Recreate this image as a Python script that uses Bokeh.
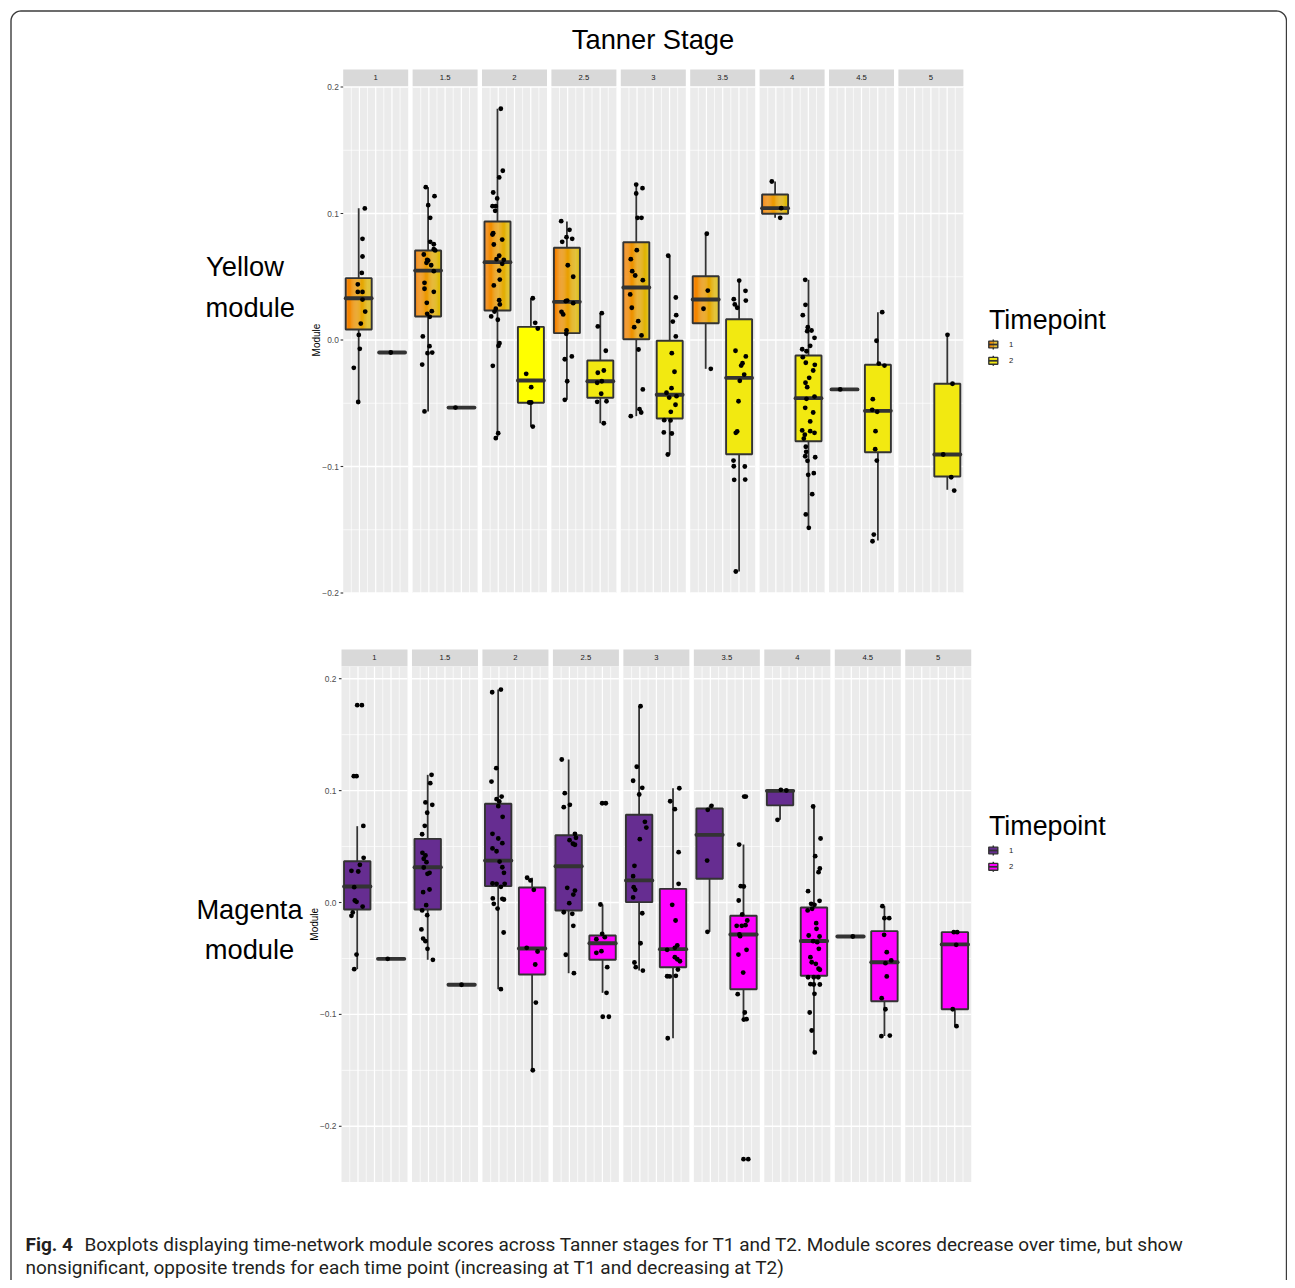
import numpy as np
from bokeh.plotting import figure
from bokeh.models import Range1d
from bokeh.core.properties import value
from bokeh.embed import file_html
from bokeh.resources import INLINE

# ---------------- data ----------------
stages = ["1", "1.5", "2", "2.5", "3", "3.5", "4", "4.5", "5"]
timepoints = ["1", "2"]
y_ticks = [-0.2, -0.1, 0.0, 0.1, 0.2]
y_tick_labels = ["\u22120.2", "\u22120.1", "0.0", "0.1", "0.2"]

# Yellow module, box statistics per Tanner stage (None = no data)
yellow_t1_lo = [-0.0494, -0.0565, -0.0768, -0.0473, -0.0602, -0.0228, 0.0966, -0.0391, None]
yellow_t1_q1 = [0.0083, 0.0186, 0.0233, 0.0054, 0.0006, 0.0133, 0.0998, -0.0391, None]
yellow_t1_med = [0.0330, 0.0549, 0.0615, 0.0302, 0.0415, 0.0320, 0.1042, -0.0391, None]
yellow_t1_q3 = [0.0489, 0.0708, 0.0937, 0.0729, 0.0773, 0.0504, 0.1150, -0.0391, None]
yellow_t1_hi = [0.1042, 0.1208, 0.1828, 0.0937, 0.1229, 0.0840, 0.1253, -0.0391, None]

yellow_t2_lo = [-0.0099, -0.0534, -0.0684, -0.0658, -0.0905, -0.1830, -0.1485, -0.1585, -0.1184]
yellow_t2_q1 = [-0.0099, -0.0534, -0.0496, -0.0457, -0.0621, -0.0903, -0.0800, -0.0887, -0.1079]
yellow_t2_med = [-0.0099, -0.0534, -0.0320, -0.0326, -0.0433, -0.0299, -0.0460, -0.0560, -0.0905]
yellow_t2_q3 = [-0.0099, -0.0534, 0.0104, -0.0162, -0.0006, 0.0164, -0.0123, -0.0196, -0.0346]
yellow_t2_hi = [-0.0099, -0.0534, 0.0330, 0.0212, 0.0666, 0.0470, 0.0476, 0.0220, 0.0041]

# Magenta module, box statistics
magenta_t1_lo = [-0.0596, -0.0512, -0.0775, -0.0632, -0.0608, -0.0262, 0.0739, -0.0304, None]
magenta_t1_q1 = [-0.0063, -0.0063, 0.0146, -0.0071, 0.0003, 0.0212, 0.0868, -0.0304, None]
magenta_t1_med = [0.0143, 0.0315, 0.0375, 0.0324, 0.0197, 0.0605, 0.0998, -0.0304, None]
magenta_t1_q3 = [0.0369, 0.0569, 0.0882, 0.0601, 0.0784, 0.0840, 0.1001, -0.0304, None]
magenta_t1_hi = [0.0682, 0.1141, 0.1903, 0.1278, 0.1754, 0.0864, 0.1007, -0.0304, None]

magenta_t2_lo = [-0.0503, -0.0735, -0.1499, -0.0807, -0.1213, -0.1046, -0.1340, -0.1193, -0.1105]
magenta_t2_q1 = [-0.0503, -0.0735, -0.0643, -0.0512, -0.0578, -0.0775, -0.0655, -0.0882, -0.0954]
magenta_t2_med = [-0.0503, -0.0735, -0.0411, -0.0364, -0.0417, -0.0286, -0.0344, -0.0534, -0.0375]
magenta_t2_q3 = [-0.0503, -0.0735, 0.0134, -0.0295, 0.0122, -0.0119, -0.0045, -0.0256, -0.0265]
magenta_t2_hi = [-0.0503, -0.0735, 0.0221, -0.0018, 0.1021, 0.0518, 0.0858, -0.0033, -0.0265]

# individual module scores (one list per stage) and their horizontal jitter
yellow_t1_values = [
    [0.104, 0.080, 0.066, 0.053, 0.044, 0.038, 0.038, 0.032, 0.0225, 0.013, 0.004, -0.007, -0.022, -0.049],
    [0.1208, 0.1137, 0.1066, 0.0966, 0.0776, 0.0757, 0.0718, 0.0708, 0.0676, 0.0634, 0.0628, 0.0610, 0.0591,
     0.0544, 0.0452, 0.0405, 0.0381, 0.0294, 0.0228, 0.0207, 0.0183, 0.0028, -0.0049, -0.0104, -0.0099, -0.0194, -0.0565],
    [0.1828, 0.1338, 0.1285, 0.1166, 0.1119, 0.1058, 0.1058, 0.1021, 0.0844, 0.0834, 0.0794, 0.0755, 0.0666, 0.0639,
     0.0634, 0.0602, 0.0549, 0.0478, 0.0431, 0.0315, 0.0281, 0.0247, 0.0225, 0.0186, 0.0160, -0.0025, -0.0046,
     -0.0204, -0.0737, -0.0776],
    [0.0939, 0.0871, 0.0813, 0.0800, 0.0776, 0.0591, 0.0500, 0.0312, 0.0307, 0.0291, 0.0223, 0.0202, 0.0075,
     0.0049, -0.0130, -0.0152, -0.0326, -0.0473],
    [0.1229, 0.1200, 0.1158, 0.0966, 0.0966, 0.0710, 0.0639, 0.0544, 0.0510, 0.0473, 0.0360, 0.0255, 0.0149,
     0.0101, 0.0036, -0.0075, -0.0391, -0.0547, -0.0573, -0.0602],
    [0.0840, 0.0391, 0.0247, -0.0228],
    [0.1253, 0.1042, 0.0966],
    [-0.0391],
    [],
]
yellow_t1_jitter = [
    [6.1, 3.8, 3.8, 3.1, -0.9, -0.9, 3.8, 3.8, 6.5, 2.1, 0.1, 1.1, -4.9, -0.5],
    [-2.3, 6.4, 0.1, 2.1, 2.1, 5.7, 5.7, 7.1, -4.3, -0.9, 0.1, -1.6, 3.1, 5.7, -3.6, -3.6, 5.7, -1.3, 3.7, -0.9,
     1.7, -5.3, 1.4, -0.6, 4.1, -5.9, -3.6],
    [3.3, 5.3, 1.7, -4.3, -0.3, -5.0, -1.7, -2.3, -4.3, -5.0, 4.7, -3.7, 1.7, -1.0, 6.3, 4.7, 1.7, 2.3, -3.7, 1.7,
     2.3, -1.7, -3.0, -6.3, 0.3, 2.0, 1.0, -4.7, 0.7, -1.7],
    [-5.7, 2.6, -0.4, 5.3, -4.7, 0.9, 6.3, 0.3, -1.1, 6.3, -5.4, -3.7, -0.4, -0.7, 4.9, -2.1, 0.3, -2.1],
    [-0.1, 6.2, -0.1, 1.2, 5.2, 0.5, -5.5, -4.1, -1.1, 6.5, -6.1, -4.5, 1.9, -2.1, 5.2, 2.2, 6.5, 3.2, 4.9, -5.5],
    [1.1, 2.1, -2.2, 5.1],
    [-3.3, 6.1, 5.1],
    [-4.3],
    [],
]
yellow_t2_values = [
    [-0.0099],
    [-0.0534],
    [0.0330, 0.0136, 0.0091, -0.0267, -0.0373, -0.0494, -0.0494, -0.0684],
    [0.0212, 0.0107, -0.0085, -0.0241, -0.0259, -0.0326, -0.0338, -0.0425, -0.0489, -0.0484, -0.0658],
    [0.0666, 0.0336, 0.0196, 0.0146, 0.0028, -0.0104, -0.0251, -0.0381, -0.0417, -0.0455, -0.0444, -0.0512,
     -0.0568, -0.0634, -0.0636, -0.0731, -0.0739, -0.0905],
    [0.0470, 0.0389, 0.0323, 0.0312, 0.0281, 0.0255, -0.0085, -0.0130, -0.0183, -0.0202, -0.0273, -0.0323,
     -0.0484, -0.0723, -0.0734, -0.0953, -0.0998, -0.1000, -0.1105, -0.1103, -0.1830],
    [0.0476, 0.0278, 0.0196, 0.0101, 0.0075, 0.0070, 0.0017, -0.0046, -0.0073, -0.0089, -0.0136, -0.0180, -0.0196,
     -0.0241, -0.0299, -0.0338, -0.0373, -0.0447, -0.0465, -0.0536, -0.0573, -0.0644, -0.0715, -0.0721, -0.0734,
     -0.0749, -0.0779, -0.0844, -0.0884, -0.0919, -0.0927, -0.0955, -0.1053, -0.1066, -0.1219, -0.1379, -0.1485],
    [0.0220, -0.0006, -0.0186, -0.0202, -0.0468, -0.0552, -0.0568, -0.0721, -0.0863, -0.0953, -0.1538, -0.1591],
    [0.0041, -0.0346, -0.0905, -0.1085, -0.1190],
]
yellow_t2_jitter = [
    [-1.3],
    [-6.0],
    [1.9, 4.3, 6.9, -4.7, 0.3, -1.7, 0.3, 1.9],
    [1.5, -2.5, 5.5, 3.5, -2.5, 1.5, -3.1, 0.9, -3.1, 6.2, 3.5],
    [-1.5, 6.1, 6.5, 3.1, 6.1, 2.1, 4.8, 1.8, -3.2, -0.5, 6.8, 5.8, 1.1, -5.5, 0.8, -5.9, 2.1, -1.9],
    [0.1, 6.4, -5.3, 6.7, -4.3, -1.9, -3.6, 6.7, 3.4, 2.1, 5.1, 0.7, -0.6, -1.9, -3.3, -5.6, -5.3, 5.7, -4.9, 6.1,
     -3.3],
    [-3.3, -3.0, -5.7, -0.7, 3.0, -1.3, 6.0, 1.7, -6.3, -2.0, -5.7, -2.7, 6.3, 4.7, 0.7, -3.0, -1.3, 6.0, -2.0,
     -3.3, 4.7, 1.7, -6.3, 1.7, 6.0, -3.7, -4.7, -2.7, -2.3, -3.3, 6.7, -1.0, 5.3, -0.3, 3.7, -2.7, 0.3],
    [4.3, -1.4, 0.9, 6.6, -5.1, -5.7, -0.7, -2.4, -2.7, -1.1, -4.1, -5.4],
    [0.2, 5.2, -4.1, 3.9, 6.9],
]
magenta_t1_values = [
    [0.1763, 0.1763, 0.1129, 0.1129, 0.0684, 0.0399, 0.0337, 0.0283, 0.0277, 0.0137, 0.0018, 0.0006, -0.0036,
     -0.0089, -0.0119, -0.0465, -0.0596],
    [0.1141, 0.1066, 0.0894, 0.0873, 0.0802, 0.0685, 0.0610, 0.0444, 0.0420, 0.0391, 0.0360, 0.0313, 0.0265,
     0.0256, 0.0116, 0.0092, -0.0024, -0.0071, -0.0113, -0.0241, -0.0322, -0.0346, -0.0414, -0.0512],
    [0.1903, 0.1879, 0.1200, 0.1081, 0.0947, 0.0923, 0.0903, 0.0861, 0.0766, 0.0614, 0.0572, 0.0530, 0.0483,
     0.0458, 0.0366, 0.0315, 0.0265, 0.0170, 0.0167, 0.0167, 0.0140, 0.0036, 0.0033, 0.0027, -0.0012, -0.0054,
     -0.0268, -0.0775],
    [0.1278, 0.0977, 0.0873, 0.0852, 0.0614, 0.0578, 0.0557, 0.0525, 0.0516, 0.0131, 0.0107, 0.0071, -0.0006,
     -0.0087, -0.0101, -0.0208, -0.0467, -0.0632],
    [0.1754, 0.1213, 0.1088, 0.1025, 0.0965, 0.0721, 0.0670, 0.0566, 0.0328, 0.0235, 0.0137, 0.0113, 0.0045,
     -0.0096, -0.0364, -0.0536, -0.0578, -0.0608],
    [0.0864, 0.0828, 0.0375, -0.0262],
    [0.1007, 0.1001, 0.0739],
    [-0.0304],
    [],
]
magenta_t1_jitter = [
    [0.0, 4.6, -3.4, -0.7, 6.0, 6.3, 2.6, -5.7, 1.0, -3.0, -2.4, -0.7, 5.3, -4.4, -5.7, -0.7, -3.0],
    [3.8, 2.5, -2.2, 4.5, -0.5, -2.9, -5.5, -5.2, -2.2, -3.9, -1.2, -3.9, 1.8, -0.2, 1.8, -4.5, -1.5, -5.5, -0.5,
     -6.2, -4.5, -2.2, -0.2, 5.1],
    [2.7, -5.9, -1.9, -6.6, 3.4, -1.6, 1.1, 0.1, 4.4, -5.6, 0.1, 4.1, -5.6, -1.6, 1.4, 4.1, 5.7, -5.6, -1.6, 6.4,
     2.7, -5.3, 4.1, 5.7, -4.3, -0.6, 5.4, 2.7],
    [-6.8, -3.8, 1.2, -4.8, 6.2, 7.2, 0.9, 4.2, 6.2, -1.4, 6.2, 4.6, 0.6, -4.8, 3.6, 4.6, -2.8, 5.2],
    [1.4, -2.3, -5.9, 3.1, 0.1, 5.7, 7.1, 0.7, -4.6, -5.9, -5.3, -3.9, -5.9, 3.1, 1.4, -4.6, -3.3, 3.7],
    [1.9, -1.8, -2.4, -2.1],
    [0.8, 6.2, -2.5],
    [2.3],
    [],
]
magenta_t2_values = [
    [-0.0503],
    [-0.0735],
    [0.0221, 0.0197, 0.0113, -0.0405, -0.0438, -0.0554, -0.0894, -0.1499],
    [0.0887, 0.0887, -0.0018, -0.0280, -0.0310, -0.0328, -0.0435, -0.0450, -0.0578, -0.0807, -0.1021, -0.1021],
    [0.1021, 0.0905, 0.0834, 0.0450, 0.0167, -0.0021, -0.0161, -0.0384, -0.0405, -0.0423, -0.0489, -0.0507,
     -0.0525, -0.0599, -0.0659, -0.0661, -0.0655, -0.1213],
    [0.0947, 0.0947, 0.0518, 0.0146, 0.0143, 0.0018, -0.0107, -0.0161, -0.0208, -0.0208, -0.0203, -0.0286,
     -0.0301, -0.0423, -0.0465, -0.0626, -0.0819, -0.0983, -0.1046, -0.1043, -0.2294, -0.2294],
    [0.0858, 0.0572, 0.0414, 0.0304, 0.0271, 0.0101, 0.0015, -0.0012, -0.0021, -0.0056, -0.0071, -0.0185,
     -0.0235, -0.0295, -0.0304, -0.0346, -0.0355, -0.0414, -0.0489, -0.0534, -0.0548, -0.0592, -0.0601, -0.0668,
     -0.0668, -0.0668, -0.0730, -0.0733, -0.0733, -0.0816, -0.0983, -0.1144, -0.1340],
    [-0.0033, -0.0140, -0.0140, -0.0289, -0.0444, -0.0518, -0.0542, -0.0661, -0.0855, -0.0954, -0.1195, -0.1189],
    [-0.0265, -0.0265, -0.0378, -0.0954, -0.1105],
]
magenta_t2_jitter = [
    [-3.4],
    [-0.1],
    [-4.9, -1.6, 1.7, -5.3, 5.4, 3.1, 3.7, 0.7],
    [-0.4, 3.2, -2.1, -0.4, 2.2, -6.1, -1.1, -6.1, 4.6, 3.9, 0.2, 6.2],
    [6.2, -2.8, 1.8, 5.5, 5.5, -0.8, 2.5, 4.2, 1.8, -5.8, 1.8, 4.2, 6.8, 4.8, -5.8, -3.2, 2.8, -5.2],
    [0.7, 2.3, -4.3, -2.7, 0.3, -4.7, -1.3, 3.7, -6.7, -1.7, 2.0, -4.0, -3.3, 3.0, -5.0, -0.3, -5.7, 1.3, 0.3,
     3.0, 0.0, 4.7],
    [-0.8, 6.5, 1.2, 5.8, 4.5, -5.8, 5.5, -2.8, 0.5, -1.8, -6.2, 2.2, 2.5, -5.2, 5.5, -0.8, 3.2, 4.8, -3.5, -2.2,
     1.8, 4.5, 5.8, -5.8, -0.2, 4.2, -3.5, -0.2, 5.8, 0.5, -4.2, -2.2, 0.8],
    [-2.0, 0.0, 4.7, -0.3, 2.3, 6.7, 1.0, 2.3, -2.7, 1.0, -3.0, 5.3],
    [-1.1, 2.3, 1.3, -2.1, 1.6],
]

title_text = "Tanner Stage"
legend_title = "Timepoint"
caption_bold = "Fig. 4"
caption_line1 = ("Boxplots displaying time-network module scores across Tanner stages for T1 and T2. "
                 "Module scores decrease over time, but show")
caption_line2 = "nonsignificant, opposite trends for each time point (increasing at T1 and decreasing at T2)"

# ---------------- styles / layout ----------------
FONT = "Liberation Sans"
CAP_FONT = "Roboto"
W, H = 1287, 1280        # canvas size (1 unit of the base ranges = 1 screen pixel)


def fs(px):
    return value("%.2fpx" % px)


FW, FS = 65.0, 69.4      # facet width / facet spacing in panel units
CENTERS = [15.5, 48.9]   # timepoint centres within a facet
HALF = 13.0              # half box width
DARK = "#333333"
PANEL_BG = "#EBEBEB"
STRIP_BG = "#D9D9D9"

p = figure(width=W, height=H, x_range=Range1d(0, W), y_range=Range1d(H, 0),
           output_backend="svg", toolbar_location=None, min_border=0,
           x_axis_location=None, y_axis_location=None)
p.outline_line_color = None
p.grid.visible = False
p.background_fill_color = "white"
p.border_fill_color = "white"

panels = {
    "yellow": dict(x0=342.7, sx=1.0, y0=339.5, sy=1265.0, vmin=-0.2, vmax=0.2,
                   strip=(69.0, 85.7), label_dx=4.4, legend_dy=0.0),
    "magenta": dict(x0=341.0, sx=66.0 / 65.0, y0=902.0, sy=1119.0, vmin=-0.2498, vmax=0.2109,
                    strip=(649.0, 665.7), label_dx=5.0, legend_dy=506.0),
}
xr, yr = {}, {}
for name, pn in panels.items():
    xr[name + "_x"] = Range1d((0 - pn["x0"]) / pn["sx"], (W - pn["x0"]) / pn["sx"])
    yr[name + "_y"] = Range1d((pn["y0"] - H) / pn["sy"], pn["y0"] / pn["sy"])
p.extra_x_ranges = xr
p.extra_y_ranges = yr


def hexmix(c1, c2, t):
    a = [int(c1[i:i + 2], 16) for i in (1, 3, 5)]
    b = [int(c2[i:i + 2], 16) for i in (1, 3, 5)]
    return "#%02x%02x%02x" % tuple(int(round(a[i] + (b[i] - a[i]) * t)) for i in range(3))


GRAD = ("#F67E00", "#DDBE08")


def draw_panel(name, stats, values, jitters, fills, gradient_first):
    pn = panels[name]
    kw = dict(x_range_name=name + "_x", y_range_name=name + "_y")
    nf = len(stages)
    lefts = [k * FS for k in range(nf)]
    rights = [k * FS + FW for k in range(nf)]
    # facet backgrounds
    p.quad(left=lefts, right=rights, bottom=pn["vmin"], top=pn["vmax"],
           fill_color=PANEL_BG, line_color=None, **kw)
    # horizontal grid
    majors = [t for t in y_ticks if pn["vmin"] - 1e-9 <= t <= pn["vmax"] + 1e-9]
    minors = [t + 0.05 for t in y_ticks[:-1]]
    for vals, lw in ((minors, 0.7), (majors, 1.4)):
        x0s, x1s, ys = [], [], []
        for k in range(nf):
            for v in vals:
                x0s.append(lefts[k]); x1s.append(rights[k]); ys.append(v)
        p.segment(x0=x0s, y0=ys, x1=x1s, y1=ys, line_color="white", line_width=lw, **kw)
    # vertical grid
    for j_set, lw in (((1, 3, 5, 7), 0.7), ((2, 4, 6), 1.2)):
        xs = [lefts[k] + FW * j / 8.0 for k in range(nf) for j in j_set]
        p.segment(x0=xs, y0=pn["vmin"], x1=xs, y1=pn["vmax"], line_color="white", line_width=lw, **kw)
    # strips
    s0, s1 = pn["strip"]
    p.quad(left=lefts, right=rights, top=s0, bottom=s1, fill_color=STRIP_BG, line_color=None,
           x_range_name=name + "_x")
    p.text(x=[l + FW / 2 for l in lefts], y=(s0 + s1) / 2, text=stages, text_font=value(FONT),
           text_font_size=fs(7.7), text_color="#1A1A1A", text_align="center",
           text_baseline="middle", x_range_name=name + "_x")
    # y axis ticks & labels
    tick_vals = majors
    tick_text = [y_tick_labels[y_ticks.index(t)] for t in tick_vals]
    p.segment(x0=pn["x0"] - 2.6, x1=pn["x0"], y0=tick_vals, y1=tick_vals, line_color=DARK,
              line_width=1.1, y_range_name=name + "_y")
    p.text(x=pn["x0"] - pn["label_dx"], y=tick_vals, text=tick_text, text_font=value(FONT),
           text_font_size=fs(8.4), text_color="#4D4D4D", text_align="right",
           text_baseline="middle", y_range_name=name + "_y")
    p.text(x=[pn["x0"] - 27.0], y=[(pn["vmin"] + pn["vmax"]) / 2], text=["Module"], angle=np.pi / 2,
           text_font=value(FONT), text_font_size=fs(10), text_color="black",
           text_align="center", text_baseline="middle", y_range_name=name + "_y")
    # boxplots
    for ti in range(2):
        lo, q1, med, q3, hi = stats[ti]
        idx = [k for k in range(nf) if med[k] is not None]
        xc = [k * FS + CENTERS[ti] for k in idx]
        p.segment(x0=xc, x1=xc, y0=[q3[k] for k in idx], y1=[hi[k] for k in idx],
                  line_color=DARK, line_width=1.8, **kw)
        p.segment(x0=xc, x1=xc, y0=[q1[k] for k in idx], y1=[lo[k] for k in idx],
                  line_color=DARK, line_width=1.8, **kw)
        bl = [c - HALF for c in xc]
        br = [c + HALF for c in xc]
        bt = [q3[k] for k in idx]
        bb = [q1[k] for k in idx]
        if ti == 0 and gradient_first:
            n = 24
            L, R, T, B, C = [], [], [], [], []
            for i in range(len(idx)):
                for s in range(n):
                    L.append(bl[i] + (br[i] - bl[i]) * s / n)
                    R.append(bl[i] + (br[i] - bl[i]) * (s + 1) / n + 0.05)
                    T.append(bt[i]); B.append(bb[i])
                    C.append(hexmix(GRAD[0], GRAD[1], s / (n - 1)))
            p.quad(left=L, right=R, top=T, bottom=B, fill_color=C, line_color=None, **kw)
        else:
            p.quad(left=bl, right=br, top=bt, bottom=bb, fill_color=[fills[ti][k] for k in idx],
                   line_color=None, **kw)
        p.quad(left=bl, right=br, top=bt, bottom=bb, fill_color=None, line_color=DARK,
               line_width=1.9, **kw)
        p.segment(x0=bl, x1=br, y0=[med[k] for k in idx], y1=[med[k] for k in idx],
                  line_color=DARK, line_width=3.8, line_cap="round", **kw)
    # jittered points (drawn above all boxes)
    px, py = [], []
    for ti in range(2):
        for k in range(nf):
            for v, j in zip(values[ti][k], jitters[ti][k]):
                px.append(k * FS + CENTERS[ti] + j)
                py.append(v)
    p.scatter(x=px, y=py, size=4.8, fill_color="black", line_color=None, **kw)


yellow_fill_t2 = ["#F2E911"] * len(stages)
yellow_fill_t2[2] = "#FFFF00"
draw_panel("yellow",
           [(yellow_t1_lo, yellow_t1_q1, yellow_t1_med, yellow_t1_q3, yellow_t1_hi),
            (yellow_t2_lo, yellow_t2_q1, yellow_t2_med, yellow_t2_q3, yellow_t2_hi)],
           [yellow_t1_values, yellow_t2_values], [yellow_t1_jitter, yellow_t2_jitter],
           [["#F67E00"] * len(stages), yellow_fill_t2], True)
draw_panel("magenta",
           [(magenta_t1_lo, magenta_t1_q1, magenta_t1_med, magenta_t1_q3, magenta_t1_hi),
            (magenta_t2_lo, magenta_t2_q1, magenta_t2_med, magenta_t2_q3, magenta_t2_hi)],
           [magenta_t1_values, magenta_t2_values], [magenta_t1_jitter, magenta_t2_jitter],
           [["#662D91"] * len(stages), ["#FF00FF"] * len(stages)], False)

# ---------------- legends ----------------
for name, fill2 in (("yellow", "#F2E911"), ("magenta", "#FF00FF")):
    dy = panels[name]["legend_dy"]
    p.text(x=[988.5], y=[319.5 + dy], text=[legend_title], text_font=value(FONT),
           text_font_size=fs(26.8), text_color="black", text_baseline="middle")
    for i, tp in enumerate(timepoints):
        top = 339.0 + dy + i * 16.3
        xc = 992.8
        p.segment(x0=[xc], x1=[xc], y0=[top], y1=[top + 10.0], line_color=DARK, line_width=1.5)
        if name == "yellow" and i == 0:
            n = 8
            p.quad(left=[xc - 4.5 + 9.0 * s / n for s in range(n)],
                   right=[xc - 4.5 + 9.0 * (s + 1) / n + 0.05 for s in range(n)],
                   top=top + 1.6, bottom=top + 8.4,
                   fill_color=[hexmix(GRAD[0], GRAD[1], s / (n - 1)) for s in range(n)], line_color=None)
        else:
            col = fill2 if i == 1 else "#662D91"
            p.quad(left=[xc - 4.5], right=[xc + 4.5], top=[top + 1.6], bottom=[top + 8.4],
                   fill_color=col, line_color=None)
        p.quad(left=[xc - 4.5], right=[xc + 4.5], top=[top + 1.6], bottom=[top + 8.4],
               fill_color=None, line_color=DARK, line_width=1.4)
        p.segment(x0=[xc - 4.5], x1=[xc + 4.5], y0=[top + 5.0], y1=[top + 5.0], line_color=DARK,
                  line_width=1.7)
        p.text(x=[1008.5], y=[top + 5.0], text=[tp], text_font=value(FONT), text_font_size=fs(7.7),
               text_color="#1A1A1A", text_baseline="middle")

# ---------------- page texts ----------------
p.text(x=[652.5], y=[38.5], text=[title_text], text_font=value(FONT), text_font_size=fs(27.3),
       text_color="black", text_align="center", text_baseline="middle")
p.text(x=[205.5, 205.0], y=[266.0, 306.5], text=["Yellow", "module"], text_font=value(FONT),
       text_font_size=fs(27.3), text_color="black", text_align="left", text_baseline="middle")
p.text(x=[249.0, 249.0], y=[908.5, 949.0], text=["Magenta", "module"], text_font=value(FONT),
       text_font_size=fs(27.3), text_color="black", text_align="center", text_baseline="middle")

p.text(x=[25.0], y=[1243.5], text=[caption_bold], text_font=value(CAP_FONT), text_font_style="bold",
       text_font_size=fs(19.0), text_color="#231F20", text_baseline="middle")
p.text(x=[84.0, 25.0], y=[1243.5, 1266.5], text=[caption_line1, caption_line2], text_font=value(CAP_FONT),
       text_font_size=fs(19.0), text_color="#231F20", text_baseline="middle")

# outer rounded frame
r = 10.0
L0, R0, T0, B0 = 10.5, W - 1.0, 10.5, H + 12.0
th = np.linspace(0, np.pi / 2, 12)
bx = np.concatenate([L0 + r - r * np.cos(th), R0 - r + r * np.sin(th), R0 - r + r * np.cos(th),
                     L0 + r - r * np.sin(th), [L0]])
by = np.concatenate([T0 + r - r * np.sin(th), T0 + r - r * np.cos(th), B0 - r + r * np.sin(th),
                     B0 - r + r * np.cos(th), [T0 + r]])
p.line(x=bx, y=by, line_color="#3C3C3C", line_width=1.4)

open("out.html", "w").write(file_html(p, INLINE))
